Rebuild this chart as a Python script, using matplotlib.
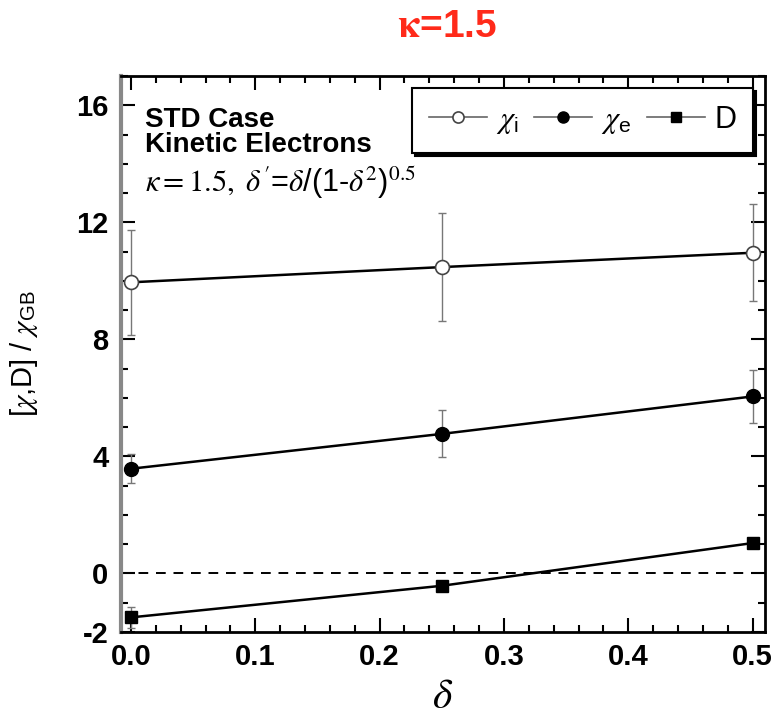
import numpy as np
import matplotlib.pyplot as plt
from matplotlib.ticker import MultipleLocator

# data
delta = [0.0, 0.25, 0.5]
chi_i = [9.95, 10.47, 10.96]
chi_i_err = [1.8, 1.85, 1.65]
chi_e = [3.58, 4.77, 6.05]
chi_e_err = [0.5, 0.8, 0.9]
d_vals = [-1.5, -0.42, 1.04]
d_err = [0.35, 0.0, 0.0]

plt.rcParams['font.family'] = ['Liberation Sans', 'DejaVu Sans']
plt.rcParams['mathtext.fontset'] = 'stix'
plt.rcParams['axes.unicode_minus'] = False


def main():
    fig = plt.figure(figsize=(7.73, 7.21), dpi=100)
    ax = fig.add_axes([0.1565, 0.1234, 0.8332, 0.7712])

    ebar = dict(ecolor='#777777', elinewidth=1.0, capsize=3, capthick=1.0, linestyle='none', zorder=2)
    ax.errorbar(delta, chi_i, yerr=chi_i_err, **ebar)
    ax.errorbar(delta, chi_e, yerr=chi_e_err, **ebar)
    ax.errorbar(delta, d_vals, yerr=d_err, **ebar)

    ax.plot(delta, chi_i, '-', color='black', lw=1.8, marker='o', ms=10,
            mfc='white', mec='#444444', mew=1.2, label=r'$\chi_{\mathregular{i}}$', zorder=3)
    ax.plot(delta, chi_e, '-', color='black', lw=1.8, marker='o', ms=10,
            mfc='black', mec='black', label=r'$\chi_{\mathregular{e}}$', zorder=3)
    ax.plot(delta, d_vals, '-', color='black', lw=1.8, marker='s', ms=9,
            mfc='black', mec='black', label='D', zorder=3)

    ax.axhline(0, color='black', lw=1.4, ls=(0, (5, 4)), zorder=1)

    ax.set_xlim(-0.008, 0.51)
    ax.set_ylim(-2, 17)
    ax.xaxis.set_major_locator(MultipleLocator(0.1))
    ax.xaxis.set_minor_locator(MultipleLocator(0.02))
    ax.yaxis.set_major_locator(MultipleLocator(4))
    ax.yaxis.set_minor_locator(MultipleLocator(1))
    ax.set_yticks([-2, 0, 4, 8, 12, 16])
    ax.tick_params(which='both', direction='in', top=True, right=True, width=1.5)
    ax.tick_params(which='major', length=10, labelsize=21)
    ax.tick_params(axis='y', which='major', pad=9)
    ax.tick_params(axis='x', which='major', pad=8)
    ax.tick_params(which='minor', length=5)
    for lab in ax.get_xticklabels() + ax.get_yticklabels():
        lab.set_fontweight('bold')
    for s in ax.spines.values():
        s.set_linewidth(2.0)
    ax.spines['left'].set_color('#888888')
    ax.spines['left'].set_linewidth(3.0)

    ax.set_xlabel(r'$\delta$', fontsize=30, labelpad=4)
    ax.set_ylabel(r'[$\chi$,D] / $\chi_{\mathregular{GB}}$', fontsize=21)
    ax.yaxis.set_label_coords(-0.125, 0.5)

    ax.text(0.038, 0.945, 'STD Case\nKinetic Electrons', transform=ax.transAxes,
            fontsize=20, fontweight='bold', va='top', ha='left', linespacing=0.95)
    ax.text(0.038, 0.775, r"$\kappa\mathrm{=1.5,}\ \delta'$=$\delta$/(1-$\delta^2$)$^{0.5}$",
            transform=ax.transAxes, fontsize=22, va='bottom', ha='left')

    leg = ax.legend(loc='upper right', ncol=3, fontsize=22, frameon=True, fancybox=False,
                    shadow={'color': 'black', 'alpha': 1.0}, handlelength=1.9,
                    handletextpad=0.3, columnspacing=0.5, borderaxespad=0.4,
                    borderpad=0.55, markerscale=0.8)
    leg.get_frame().set_edgecolor('black')
    leg.get_frame().set_linewidth(1.5)
    for h in leg.get_lines():
        h.set_linewidth(1.2)
        h.set_color('#666666')

    fig.text(0.578, 0.963, r'$\mathbf{\kappa}$=1.5', color='#FF2A1A', fontsize=28,
             fontweight='bold', ha='center', va='center')

    fig.savefig('out.png', dpi=100)


if __name__ == "__main__":
    main()
